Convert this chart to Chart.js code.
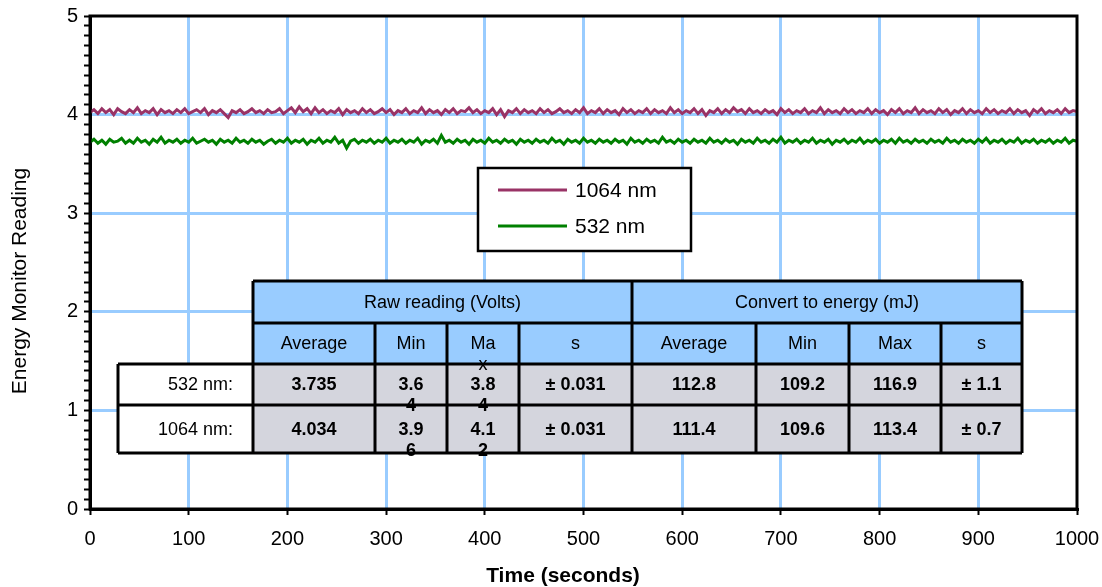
<!DOCTYPE html>
<html lang="en">
<head>
<meta charset="UTF-8">
<title>Energy Monitor Reading</title>
<script src="https://cdn.jsdelivr.net/npm/chart.js"></script>
<style>
    body { margin: 0; padding: 0; background: #fff; }
    canvas { display: block; }
</style>
</head>
<body>
<canvas id="chartCanvas" width="1102" height="587"></canvas>
<script>
const v1064 = [
    4.02,4.05,4.01,4.06,4.02,4.05,4.00,4.06,4.03,4.01,
    4.05,4.02,4.07,4.01,4.04,4.02,4.06,4.00,4.05,4.02,
    4.04,4.01,4.05,4.02,4.06,4.01,4.03,4.05,4.02,4.06,
    4.00,4.04,4.02,4.05,4.01,3.97,4.04,4.02,4.05,4.01,
    4.03,4.06,4.02,4.04,4.01,4.05,4.02,4.03,4.06,4.01,
    4.04,4.07,4.02,4.08,4.03,4.06,4.01,4.07,4.02,4.05,
    4.01,4.04,4.02,4.06,4.00,4.05,4.02,4.04,4.01,4.06,
    4.02,4.05,4.01,4.03,4.06,4.02,4.05,4.00,4.04,4.02,
    4.06,4.01,4.04,4.02,4.07,4.01,4.05,4.02,4.04,4.00,
    4.05,4.02,4.06,4.01,4.04,4.03,4.07,4.02,4.05,4.01,
    4.04,4.02,4.06,4.00,4.05,3.98,4.04,4.02,4.06,4.01,
    4.05,4.02,4.04,4.01,4.06,4.02,4.05,4.01,4.03,4.06,
    4.02,4.04,4.01,4.05,4.02,4.07,4.01,4.04,4.02,4.06,
    4.01,4.05,4.02,4.04,4.00,4.06,4.02,4.05,4.01,4.04,
    4.02,4.06,4.01,4.05,4.02,4.04,4.01,4.07,4.02,4.05,
    4.01,4.04,4.02,4.06,4.01,4.05,3.99,4.04,4.02,4.06,
    4.01,4.05,4.02,4.07,4.03,4.05,4.01,4.06,4.02,4.04,
    4.01,4.05,4.02,4.04,4.00,4.06,4.02,4.05,4.01,4.04,
    4.02,4.06,4.01,4.04,4.02,4.07,4.01,4.05,4.02,4.04,
    4.01,4.06,4.02,4.05,4.01,4.04,4.02,4.06,4.01,4.05,
    4.02,4.04,4.00,4.05,4.02,4.06,4.01,4.04,4.02,4.07,
    4.01,4.05,4.02,4.04,4.01,4.06,4.02,4.05,4.00,4.04,
    4.02,4.06,4.01,4.05,4.02,4.04,4.01,4.06,4.02,4.05,
    4.01,4.04,4.02,4.06,4.01,4.05,4.02,4.04,3.99,4.05,
    4.02,4.06,4.01,4.04,4.02,4.05,4.01,4.06,4.02,4.04,
    4.03
];
const v532 = [
    3.72,3.75,3.71,3.74,3.70,3.75,3.72,3.73,3.76,3.71,
    3.74,3.71,3.76,3.72,3.74,3.70,3.75,3.72,3.77,3.71,
    3.74,3.72,3.75,3.71,3.74,3.72,3.76,3.71,3.73,3.75,
    3.72,3.74,3.70,3.75,3.72,3.74,3.71,3.76,3.72,3.74,
    3.71,3.75,3.72,3.74,3.70,3.73,3.75,3.71,3.74,3.72,
    3.76,3.71,3.74,3.72,3.75,3.70,3.74,3.72,3.76,3.71,
    3.74,3.72,3.77,3.71,3.74,3.66,3.73,3.75,3.71,3.74,
    3.72,3.75,3.71,3.74,3.72,3.76,3.71,3.74,3.72,3.75,
    3.71,3.74,3.72,3.76,3.70,3.74,3.72,3.75,3.71,3.79,
    3.72,3.74,3.71,3.75,3.72,3.74,3.70,3.75,3.72,3.74,
    3.71,3.76,3.72,3.74,3.71,3.75,3.72,3.74,3.70,3.75,
    3.72,3.74,3.71,3.75,3.72,3.74,3.71,3.76,3.72,3.74,
    3.70,3.75,3.72,3.74,3.71,3.76,3.72,3.74,3.71,3.75,
    3.72,3.74,3.71,3.75,3.72,3.74,3.70,3.76,3.72,3.74,
    3.71,3.75,3.72,3.74,3.71,3.77,3.72,3.74,3.71,3.75,
    3.72,3.74,3.71,3.75,3.72,3.74,3.71,3.76,3.72,3.74,
    3.71,3.75,3.72,3.74,3.70,3.75,3.72,3.74,3.71,3.76,
    3.72,3.74,3.71,3.75,3.72,3.77,3.71,3.74,3.72,3.75,
    3.71,3.74,3.72,3.76,3.71,3.74,3.72,3.75,3.70,3.74,
    3.72,3.75,3.71,3.74,3.72,3.76,3.71,3.74,3.72,3.75,
    3.71,3.74,3.72,3.75,3.71,3.76,3.72,3.74,3.71,3.75,
    3.72,3.74,3.71,3.75,3.72,3.74,3.71,3.76,3.72,3.74,
    3.71,3.75,3.72,3.74,3.71,3.75,3.72,3.76,3.71,3.74,
    3.72,3.75,3.71,3.74,3.72,3.76,3.71,3.74,3.72,3.75,
    3.71,3.74,3.72,3.75,3.71,3.74,3.72,3.76,3.71,3.74,
    3.73
];
const sampleStep = 4;

const seriesNames = ['1064 nm', '532 nm'];
const seriesColors = ['#993366', '#008000'];

const xTitle = 'Time (seconds)';
const yTitle = 'Energy Monitor Reading';

// summary table
const tableGroups = ['Raw reading (Volts)', 'Convert to energy (mJ)'];
const tableHeads = ['Average', 'Min', 'Max', 's', 'Average', 'Min', 'Max', 's'];
const rowLabels = ['532 nm:', '1064 nm:'];
const row532 = ['3.735', '3.64', '3.84', '± 0.031', '112.8', '109.2', '116.9', '± 1.1'];
const row1064 = ['4.034', '3.96', '4.12', '± 0.031', '111.4', '109.6', '113.4', '± 0.7'];

const FONT = "'Liberation Sans', Arial, sans-serif";
Chart.defaults.font.family = FONT;
Chart.defaults.color = '#000';

const toPoints = vals => vals.map((y, i) => ({ x: i * sampleStep, y: y }));

// table layout (pixels)
const colX = [253, 375, 447, 519, 632, 756, 849, 941, 1022];
const labelLeft = 118;
const rowY = [281, 323, 364, 405, 453];
const wrapWidth = [null, 33, 33, null, null, null, null, null];

function wrapText(ctx, text, maxW) {
    if (!maxW) return [text];
    const lines = [];
    let cur = '';
    for (const ch of text) {
        if (cur && ctx.measureText(cur + ch).width > maxW) {
            lines.push(cur);
            cur = ch;
        } else {
            cur += ch;
        }
    }
    if (cur) lines.push(cur);
    return lines;
}

function drawCellText(ctx, text, col, yMid) {
    const cx = (colX[col] + colX[col + 1]) / 2;
    const lines = wrapText(ctx, text, wrapWidth[col]);
    lines.forEach((ln, k) => ctx.fillText(ln, cx, yMid + k * 21));
}

const overlayPlugin = {
    id: 'overlay',
    afterDatasetsDraw(chart) {
        const ctx = chart.ctx;
        const a = chart.chartArea;
        ctx.save();

        // plot frame
        ctx.strokeStyle = '#000';
        ctx.lineWidth = 3;
        ctx.strokeRect(a.left, a.top, a.right - a.left, a.bottom - a.top);

        // axis titles
        ctx.fillStyle = '#000';
        ctx.textAlign = 'center';
        ctx.textBaseline = 'middle';
        ctx.font = 'bold 21px ' + FONT;
        ctx.fillText(xTitle, 563, 576);
        ctx.save();
        ctx.translate(20, 281);
        ctx.rotate(-Math.PI / 2);
        ctx.font = '21px ' + FONT;
        ctx.fillText(yTitle, 0, 0);
        ctx.restore();

        // legend box
        ctx.fillStyle = '#fff';
        ctx.fillRect(478, 168, 213, 83);
        ctx.strokeStyle = '#000';
        ctx.lineWidth = 2.5;
        ctx.strokeRect(478, 168, 213, 83);
        ctx.font = '21px ' + FONT;
        ctx.textAlign = 'left';
        [190, 226].forEach((y, i) => {
            ctx.strokeStyle = seriesColors[i];
            ctx.lineWidth = 3;
            ctx.beginPath();
            ctx.moveTo(498, y);
            ctx.lineTo(567, y);
            ctx.stroke();
            ctx.fillStyle = '#000';
            ctx.fillText(seriesNames[i], 575, y + 1);
        });

        // table fills
        ctx.fillStyle = '#99ccff';
        ctx.fillRect(colX[0], rowY[0], colX[8] - colX[0], rowY[2] - rowY[0]);
        ctx.fillStyle = '#d4d5dd';
        ctx.fillRect(colX[0], rowY[2], colX[8] - colX[0], rowY[4] - rowY[2]);
        ctx.fillStyle = '#fff';
        ctx.fillRect(labelLeft, rowY[2], colX[0] - labelLeft, rowY[4] - rowY[2]);

        // table borders
        ctx.strokeStyle = '#000';
        ctx.lineWidth = 3;
        ctx.beginPath();
        [rowY[0], rowY[1]].forEach(y => { ctx.moveTo(colX[0], y); ctx.lineTo(colX[8], y); });
        [rowY[2], rowY[3], rowY[4]].forEach(y => { ctx.moveTo(labelLeft, y); ctx.lineTo(colX[8], y); });
        ctx.moveTo(labelLeft, rowY[2]); ctx.lineTo(labelLeft, rowY[4]);
        colX.forEach((x, i) => {
            const top = (i === 0 || i === 4 || i === 8) ? rowY[0] : rowY[1];
            ctx.moveTo(x, top);
            ctx.lineTo(x, rowY[4]);
        });
        ctx.stroke();

        // table text
        ctx.fillStyle = '#000';
        ctx.textAlign = 'center';
        ctx.textBaseline = 'middle';
        ctx.font = '18px ' + FONT;
        ctx.fillText(tableGroups[0], (colX[0] + colX[4]) / 2, (rowY[0] + rowY[1]) / 2 + 1);
        ctx.fillText(tableGroups[1], (colX[4] + colX[8]) / 2, (rowY[0] + rowY[1]) / 2 + 1);
        tableHeads.forEach((t, i) => drawCellText(ctx, t, i, (rowY[1] + rowY[2]) / 2 + 1));

        ctx.textAlign = 'right';
        rowLabels.forEach((t, r) => ctx.fillText(t, 233, (rowY[2 + r] + rowY[3 + r]) / 2 + 1));

        ctx.textAlign = 'center';
        ctx.font = 'bold 18px ' + FONT;
        [row532, row1064].forEach((row, r) => {
            row.forEach((t, i) => drawCellText(ctx, t, i, (rowY[2 + r] + rowY[3 + r]) / 2 + 1));
        });

        ctx.restore();
    }
};

const isWhole = v => Math.abs(v - Math.round(v)) < 1e-6;

new Chart(document.getElementById('chartCanvas'), {
    type: 'line',
    data: {
        datasets: [
            {
                label: seriesNames[0],
                data: toPoints(v1064),
                borderColor: seriesColors[0],
                borderWidth: 3,
                pointRadius: 0,
                tension: 0
            },
            {
                label: seriesNames[1],
                data: toPoints(v532),
                borderColor: seriesColors[1],
                borderWidth: 3,
                pointRadius: 0,
                tension: 0
            }
        ]
    },
    options: {
        responsive: false,
        animation: false,
        layout: { padding: { top: 16, right: 25, left: 0, bottom: 0 } },
        plugins: {
            legend: { display: false },
            tooltip: { enabled: false }
        },
        scales: {
            x: {
                type: 'linear',
                min: 0,
                max: 1000,
                ticks: {
                    stepSize: 100,
                    font: { size: 20 },
                    color: '#000',
                    padding: 12,
                    maxRotation: 0,
                    callback: v => String(v)
                },
                grid: {
                    color: c => (c.tick && (c.tick.value === 0 || c.tick.value === 1000)) ? 'rgba(0,0,0,0)' : '#99ccff',
                    lineWidth: 3,
                    tickColor: '#000',
                    tickLength: 6,
                    tickWidth: 2
                },
                border: { color: '#000', width: 3 },
                afterFit: s => { s.height = 78; s.paddingLeft = 0; s.paddingRight = 0; }
            },
            y: {
                min: 0,
                max: 5,
                ticks: {
                    stepSize: 0.1,
                    autoSkip: false,
                    maxTicksLimit: 100,
                    font: { size: 20 },
                    color: '#000',
                    padding: 6,
                    callback: v => isWhole(v) ? String(Math.round(v)) : ''
                },
                grid: {
                    color: c => (c.tick && isWhole(c.tick.value) && c.tick.value > 0 && c.tick.value < 5) ? '#99ccff' : 'rgba(0,0,0,0)',
                    lineWidth: 3,
                    tickColor: '#000',
                    tickLength: 6,
                    tickWidth: 2
                },
                border: { color: '#000', width: 3 },
                afterFit: s => { s.width = 90; s.paddingTop = 0; s.paddingBottom = 0; }
            }
        }
    },
    plugins: [overlayPlugin]
});
</script>
</body>
</html>
